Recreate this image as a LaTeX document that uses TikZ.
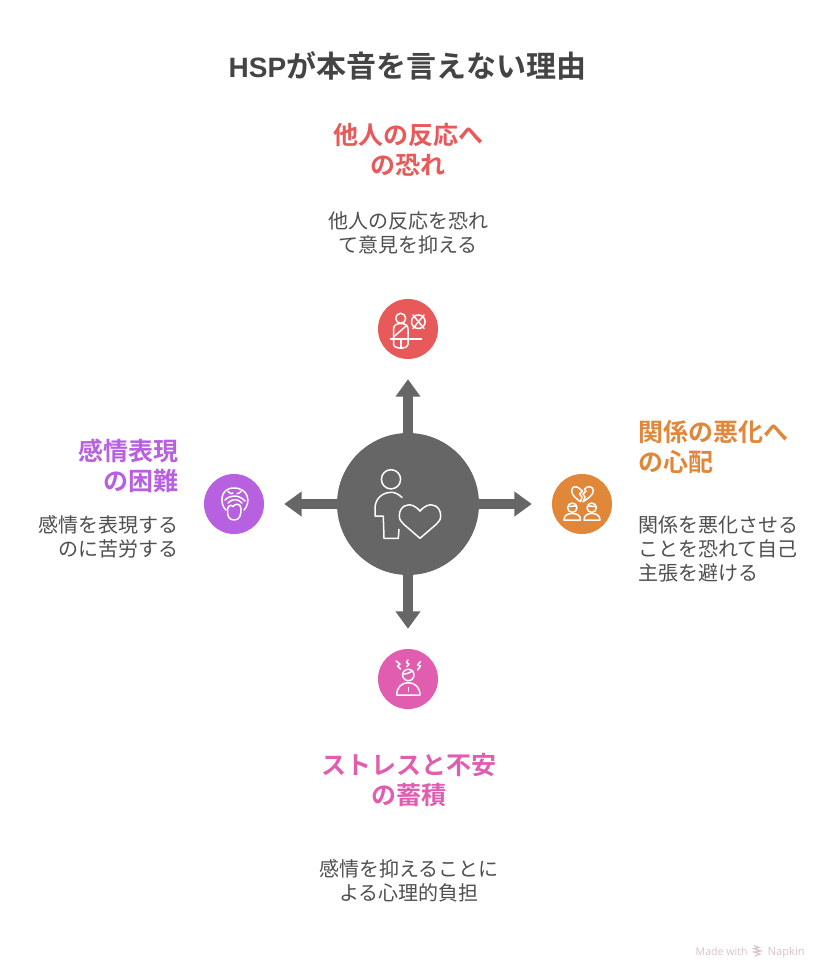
\documentclass[tikz,border=0pt]{standalone}
\usepackage{fontspec}
\setmainfont{Noto Sans CJK JP}[BoldFont={Noto Sans CJK JP Bold}]
\newfontfamily\titlelatin{Liberation Sans}
\newfontfamily\footfont{Open Sans}
\usetikzlibrary{arrows.meta}
\definecolor{cred}{HTML}{E85A5A}
\definecolor{corange}{HTML}{E0873A}
\definecolor{cpurple}{HTML}{B760E0}
\definecolor{cpink}{HTML}{E05DAF}
\definecolor{chub}{HTML}{666666}
\definecolor{ctext}{HTML}{4F4F4F}
\definecolor{ctitle}{HTML}{444444}
\definecolor{cfoot}{HTML}{DAC2C6}
\tikzset{
  icondisc/.style={circle,minimum size=60pt,inner sep=0pt,draw=none},
  hubdisc/.style={circle,minimum size=142pt,inner sep=0pt,fill=chub},
  spoke/.style={draw=chub,line width=10pt,shorten >=20pt,-{Triangle[length=17.5pt,width=24pt]}},
  headtext/.style={font=\bfseries\fontsize{25}{30}\selectfont,align=center,inner sep=0pt},
  bodytext/.style={font=\fontsize{20}{24}\selectfont,text=ctext,align=center,inner sep=0pt},
  glyph/.style={draw=white,line width=1.5pt,line cap=round,line join=round,fill=none},
  hubglyph/.style={draw=white!95!pink,line width=1.5pt,line join=round,fill=none},
  foottext/.style={font=\footfont\fontsize{#1}{13}\selectfont,text=cfoot,anchor=base west,inner sep=0pt},
}
\begin{document}
\begin{tikzpicture}[x=1pt,y=-1pt]
\useasboundingbox (0,0) rectangle (828,978);
\fill[white] (0,0) rectangle (828,978);
\node[font=\bfseries\fontsize{30}{36}\selectfont,text=ctitle,inner sep=0pt] (title) at (407.5,66) {{\fontsize{28}{36}\selectfont\titlelatin\bfseries HSP}が本音を言えない理由};

\node[icondisc,fill=cred] (north) at (408,329) {};
\node[icondisc,fill=corange] (east) at (582,504) {};
\node[icondisc,fill=cpurple] (west) at (234,504) {};
\node[icondisc,fill=cpink] (south) at (408,679) {};
\node[hubdisc] (hub) at (408,504) {};
\draw[spoke] (hub) -- (north);
\draw[spoke] (hub) -- (east);
\draw[spoke] (hub) -- (west);
\draw[spoke] (hub) -- (south);

% hub icon
\draw[hubglyph] (391,479.3) circle (9.6);
\draw[hubglyph] (402.3,497.7) .. controls (398,493.5) and (394,492.3) .. (391.7,492.3)
  .. controls (381,492.3) and (375,500) .. (375,508.3) -- (375,516) -- (383.3,516) -- (384,538.3) -- (398.3,538.3) -- (399,529);
\draw[hubglyph] (420,511) .. controls (415,505.5) and (411,504.5) .. (408,505)
  .. controls (402,505.5) and (399.3,510.5) .. (399.3,516) .. controls (399.3,520) and (401.5,522) .. (404,524.5)
  -- (420,538.3) -- (436,524.5) .. controls (438.5,522) and (440.7,520) .. (440.7,516)
  .. controls (440.7,510.5) and (438,505.5) .. (432,505) .. controls (429,504.5) and (425,505.5) .. (420,511) -- cycle;

% north icon
\draw[glyph] (400.7,318.3) circle (5);
\draw[glyph] (393.5,344) -- (393.5,329) .. controls (393.5,325) and (397,323.5) .. (400.7,323.5) .. controls (405,323.5) and (408,325) .. (408,329) -- (408,344)
  .. controls (408,349.5) and (393.5,349.5) .. (393.5,344) -- cycle;
\draw[glyph] (393.5,337) -- (406,326);
\draw[glyph] (401,339) -- (401,347.5);
\draw[glyph] (390.5,339) -- (421.5,339);
\draw[glyph] (418.3,321.7) circle (6.8);
\draw[glyph] (413,315) -- (424,328.5);
\draw[glyph] (424,315) -- (413,328.5);

% east icon
\draw[glyph] (580.5,489.5) .. controls (578,487) and (576,486.5) .. (574.5,486.7)
  .. controls (572.5,487) and (571.7,489) .. (571.7,491) .. controls (571.7,495) and (576,498.5) .. (580.5,501.7)
  -- (582,497) -- (579.5,494) -- (582.5,491) -- (580.5,489.5) -- cycle;
\draw[glyph] (584.5,489) .. controls (586.5,487) and (588,486.5) .. (590,486.7)
  .. controls (592.5,487) and (593.3,489) .. (593.3,491) .. controls (593.3,495) and (588,498.5) .. (583,501.7)
  -- (585,497) -- (583,494) -- (586,491) -- cycle;
\draw[glyph] (572.3,507.7) circle (4.7);
\draw[glyph] (568,506.5) -- (576,506);
\draw[glyph] (564,520) .. controls (564,515) and (568,513.5) .. (572.3,513.5) .. controls (576.5,513.5) and (580.5,515) .. (580.5,520) -- cycle;
\draw[glyph] (591.7,507.7) circle (4.7);
\draw[glyph] (587.5,506) -- (596,506.5);
\draw[glyph] (584,520) .. controls (584,515) and (588,513.5) .. (591.7,513.5) .. controls (596,513.5) and (600,515) .. (600,520) -- cycle;

% west icon
\draw[glyph] (226,510) .. controls (220,505) and (219,488) .. (234,488)
  .. controls (249,488) and (251,503) .. (244,510);
\draw[glyph] (228,491.5) .. controls (231,494) and (232,494) .. (233,493);
\draw[glyph] (237,493.5) .. controls (238,494) and (240,493) .. (241,491.5);
\draw[glyph] (225,500) .. controls (230,494.5) and (239,494.5) .. (245,501);
\draw[glyph] (228,503) .. controls (232,498.5) and (238,498.5) .. (242,503);
\draw[glyph] (227.5,511) .. controls (227,506.5) and (230.5,503.5) .. (233,506.5) .. controls (235,503) and (241,503.5) .. (241,508.5)
  .. controls (241,515) and (240,520) .. (234,520) .. controls (229,520) and (227.5,516) .. (227.5,511) -- cycle;

% south icon
\draw[glyph] (408.3,675) circle (5.7);
\draw[glyph] (402.8,674) .. controls (406,674.5) and (410,672.5) .. (412.5,671);
\draw[glyph] (396.7,695) .. controls (396.7,687) and (402,682.7) .. (408.3,682.7) .. controls (414.5,682.7) and (420,687) .. (420,695) -- cycle;
\draw[glyph] (408.3,687.5) -- (408.3,691);
\draw[glyph] (396,661) -- (400,664) -- (397.5,666) -- (400.5,669);
\draw[glyph] (408,660) -- (406.5,662.5) -- (409,664) -- (407,666.5);
\draw[glyph] (420.5,661.5) -- (417.5,665) -- (420.5,666) -- (417.5,670);

% texts
\node[headtext,text=cred] (northhead) at (408,150) {他人の反応へ\\の恐れ};
\node[bodytext] (northbody) at (408,233) {他人の反応を恐れ\\て意見を抑える};
\node[headtext,text=corange,align=left,anchor=west] (easthead) at (638,447) {関係の悪化へ\\の心配};
\node[bodytext,align=left,anchor=west] (eastbody) at (638,549) {関係を悪化させる\\ことを恐れて自己\\主張を避ける};
\node[headtext,text=cpurple,align=right,anchor=east] (westhead) at (179,465.5) {感情表現\\の困難};
\node[bodytext,align=right,anchor=east] (westbody) at (179,537) {感情を表現する\\のに苦労する};
\node[headtext,text=cpink] (southhead) at (408.7,780.5) {ストレスと不安\\の蓄積};
\node[bodytext] (southbody) at (409,881) {感情を抑えることに\\よる心理的負担};

% footer
\node[foottext=10.6] (made) at (695.5,955) {Made with};
\node[foottext=11.2] (napkin) at (767.5,955) {Napkin};
\draw[cfoot,line width=1.1pt] (754,945.5) -- (759,947.5) -- (754,948.5) -- (761,951) -- (754,952) -- (760,954) -- (755,956);
\end{tikzpicture}
\end{document}
